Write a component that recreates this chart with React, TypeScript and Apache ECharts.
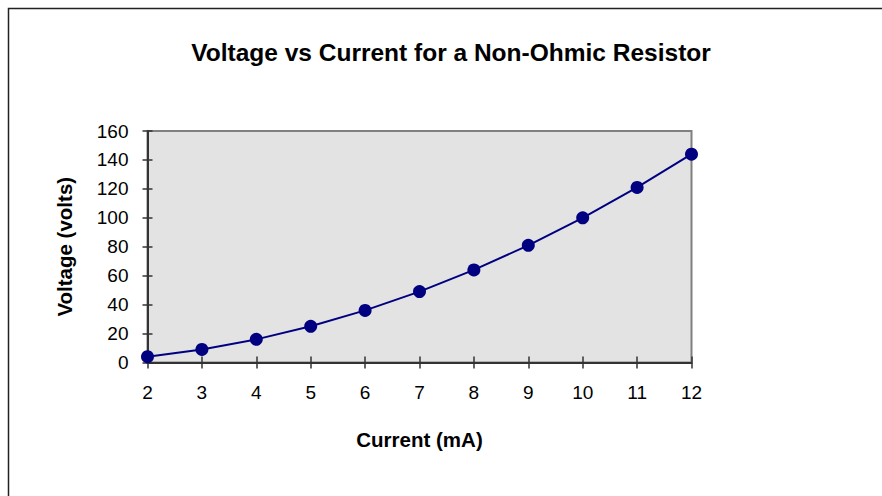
import React, { useEffect, useRef } from "react";
import * as echarts from "echarts";

// Current in milliamps and the measured voltage across the resistor
const currentMA = [2, 3, 4, 5, 6, 7, 8, 9, 10, 11, 12];
const voltage = [4, 9, 16, 25, 36, 49, 64, 81, 100, 121, 144];

const titleText = "Voltage vs Current for a Non-Ohmic Resistor";
const xName = "Current (mA)";
const yName = "Voltage (volts)";

const FONT = "'Liberation Sans', Arial, Helvetica, sans-serif";

export default function App() {
  const ref = useRef<HTMLDivElement>(null);

  useEffect(() => {
    if (!ref.current) return;
    const chart = echarts.init(ref.current, undefined, { renderer: "svg" });

    const xBase = { type: "value", min: 2, max: 12, interval: 1, position: "bottom" };
    const yBase = { type: "value", min: 0, max: 160, interval: 20, position: "left" };

    chart.setOption({
      animation: false,
      backgroundColor: "#ffffff",
      title: {
        text: titleText,
        left: 451,
        top: 40,
        padding: 0,
        textAlign: "center",
        textStyle: { fontFamily: FONT, fontSize: 24.5, fontWeight: "bold", color: "#000" },
      },
      grid: {
        left: 147.5,
        right: 190.5,
        top: 131,
        bottom: 133.5,
        show: true,
        backgroundColor: "#e3e3e3",
        borderColor: "#808080",
        borderWidth: 2,
      },
      graphic: [
        {
          type: "rect",
          shape: { x: 8.5, y: 8.5, width: 900, height: 600 },
          style: { fill: "none", stroke: "#222", lineWidth: 1.5 },
          silent: true,
        },
      ],
      xAxis: [
        {
          ...xBase,
          name: xName,
          nameLocation: "middle",
          nameGap: 66,
          nameTextStyle: { fontFamily: FONT, fontSize: 20.5, fontWeight: "bold", color: "#000" },
          axisLine: { show: true, lineStyle: { color: "#333", width: 2 } },
          axisTick: { show: true, inside: false, length: 6, lineStyle: { color: "#333", width: 1.5 } },
          axisLabel: { margin: 20, fontFamily: FONT, fontSize: 19, color: "#000" },
          splitLine: { show: false },
        },
        {
          ...xBase,
          axisLine: { show: false },
          axisTick: { show: true, inside: true, length: 6, lineStyle: { color: "#333", width: 1.5 } },
          axisLabel: { show: false },
          splitLine: { show: false },
        },
      ],
      yAxis: [
        {
          ...yBase,
          name: yName,
          nameLocation: "middle",
          nameGap: 73,
          nameTextStyle: { fontFamily: FONT, fontSize: 20.5, fontWeight: "bold", color: "#000" },
          axisLine: { show: true, lineStyle: { color: "#333", width: 2 } },
          axisTick: { show: true, inside: false, length: 5, lineStyle: { color: "#333", width: 1.5 } },
          axisLabel: { margin: 19, fontFamily: FONT, fontSize: 19, color: "#000" },
          splitLine: { show: false },
        },
        {
          ...yBase,
          axisLine: { show: false },
          axisTick: { show: true, inside: true, length: 5, lineStyle: { color: "#333", width: 1.5 } },
          axisLabel: { show: false },
          splitLine: { show: false },
        },
      ],
      series: [
        {
          type: "line",
          xAxisIndex: 0,
          yAxisIndex: 0,
          data: currentMA.map((c, i) => [c, voltage[i]]),
          symbol: "circle",
          symbolSize: 13,
          lineStyle: { color: "#000080", width: 2 },
          itemStyle: { color: "#000080" },
          clip: false,
          z: 5,
        },
      ],
    });

    return () => chart.dispose();
  }, []);

  return (
    <div
      ref={ref}
      style={{ position: "fixed", left: 0, top: 0, width: 882, height: 496 }}
    />
  );
}
